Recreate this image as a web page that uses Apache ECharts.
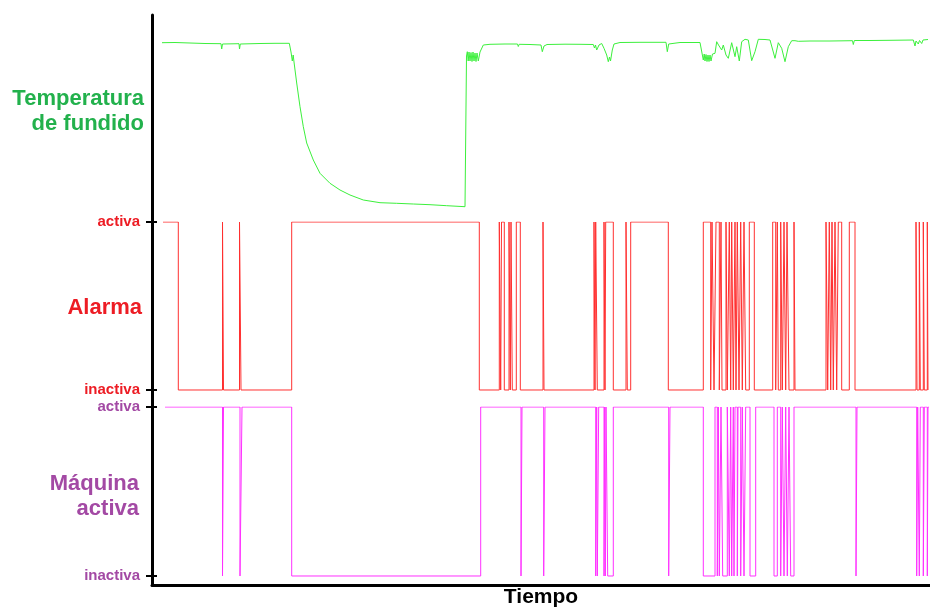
<!DOCTYPE html>
<html>
<head>
<meta charset="utf-8">
<script src="https://cdn.jsdelivr.net/npm/echarts@6/dist/echarts.min.js"></script>
<style>
  html, body { margin: 0; padding: 0; background: #ffffff; }
  #chart { width: 930px; height: 610px; }
</style>
</head>
<body>
<div id="chart"></div>
<script>
// Time runs along a common axis (0 .. 778 time units); signals are sampled on it.
const timeMax = 778;

// Melt temperature samples: [time, temperature units]
const temperature = [
  [10,179.3],[23,179.5],[38,179],[53,178.5],[69,178.3],[69.7,173],[70.5,178],[87,178.3],[87.5,173],[88.3,178],
  [108,178.5],[123,178.7],[137.3,178.7],[139,170],[140.3,161],[141.2,167],[142,160],[143,158.7],[144.7,139],
  [148,115.3],[151.3,95.3],[154.7,79],[161.3,62],[168,48.7],[178,38.7],[188,32],[198,27],[211.3,22],[228,19.3],
  [244.7,18.7],[261.3,18],[278,17.3],[294.7,16.3],[313,15.3],[314.5,166],[315.3,170.3],[316.2,161],[317,170],
  [318,161],[319,169.5],[320,160.5],[321,170],[322,161],[323,169],[324,160.5],[325,169],[326.3,161],[328,170],
  [331.3,177],[338,177.7],[353,178],[365.5,178],[366.3,175.5],[367.2,177.7],[378,177.5],[389,177],[390.3,170.3],
  [392,176],[395,177.5],[413,177.8],[428,177.7],[441.3,177.5],[442.5,174],[443.5,177],[444.7,172],[447,177],
  [449.7,178.5],[452,173.7],[454.7,167],[456.3,160.3],[457.5,165],[458.5,161],[460.3,172],[462,178],[468,179.5],
  [488,179.7],[514,179.7],[515.3,170.3],[516.7,178],[528,179.5],[548,179.5],[549.7,178],[551.3,162],[552.2,168],
  [553,161],[554,167.5],[555,160.5],[556,167],[557,160.5],[558,167],[559,161],[560.5,168],[563,168.7],[564.7,180.3],
  [566.5,177],[569.7,172],[571.3,177],[574,167],[576.3,163.7],[579.7,179.3],[583,165.3],[584.7,175.3],[587.3,161],
  [589.7,180.3],[593,182.7],[596.3,182],[599.7,161.3],[603,170.3],[606.3,182.7],[613,182.5],[618,182],[623,163.7],
  [626.3,179.3],[629.7,173.7],[633,160.3],[636.3,175.3],[639.7,181.3],[643,181.3],[646.3,180.7],[658,181],[678,181],
  [700.5,181.3],[701.3,177.5],[702.3,181.5],[718,181.5],[738,181.7],[761.3,182],[763,176],[764,181],[766.3,178],
  [767.5,181.5],[769.7,178.5],[771,182],[776,182.5]
];

// Alarm: first sample [time, state], then the times at which the state flips.
const alarmStart = [11, 1];
const alarmToggles = [
  26.3, 70.5, 71.5, 87.5, 89, 139.7, 327.3, 347.3, 348.7, 349.5, 352.3, 357, 358.3, 359, 360.3, 364.3, 368.3,
  391, 392, 442, 443, 443.7, 445.3, 452, 453, 453.7, 461.3, 474, 475.3, 478.7, 516.3, 551.3, 558.7, 560, 562,
  564, 567.3, 569, 570, 574, 575.3, 577.3, 578.7, 579.7, 581.3, 583, 584, 585.3, 587, 588.7, 590.3, 592, 593.7,
  597.3, 602.3, 620.7, 623.7, 625.3, 626.3, 628.7, 630.3, 632, 633.7, 635, 637, 642, 643, 674, 675.7, 677.3,
  678.7, 680, 681.3, 683, 684.7, 686.3, 689.7, 697.3, 703, 764, 765, 767.3, 768.3, 771.3, 772.3, 775.3, 776
];
const alarmEnd = 776;

// Machine running: first sample [time, state], then the flip times.
const machineStart = [13, 1];
const machineToggles = [
  70.5, 71.5, 88, 90, 139.7, 328.7, 369, 370, 391.7, 393, 443.7, 444.7, 445.3, 446.7, 452, 452.7, 453.3, 454,
  455.7, 461.3, 516.7, 518, 551.3, 563, 565.3, 566.3, 567.3, 569, 570.7, 575.3, 577.3, 578.7, 579.7, 581.3, 582,
  583, 585.3, 586, 588.7, 590.3, 592, 593.7, 598, 603.7, 622, 625.3, 628.7, 630.3, 632, 633.7, 635.3, 637, 638.7,
  642, 704, 705, 764.7, 765.7, 767.3, 768.3, 771.3, 772.3, 775.3, 776
];
const machineEnd = 777;

// State tick labels
const stateLabels = ['inactiva', 'activa'];

// Turn a start state plus flip times into a square-wave polyline
// (each flip adds the old and the new level at the same time, so edges stay vertical)
function squareWave(start, toggles, end) {
  let s = start[1];
  const pts = [[start[0], s]];
  toggles.forEach(function (t) {
    pts.push([t, s]);
    s = 1 - s;
    pts.push([t, s]);
  });
  if (end > pts[pts.length - 1][0]) pts.push([end, s]);
  return pts;
}

const FONT = '"Liberation Sans", Arial, sans-serif';
const GREEN_TXT = '#22b14c', RED_TXT = '#ed1c24', PURPLE_TXT = '#a349a4';
// an empty short trailing line lifts a panel title slightly above its panel centre
const LIFT = '\n{lift|}';
const liftRich = { lift: { lineHeight: 14, fontSize: 1 } };

function titleStyle(color) {
  return { color: color, fontFamily: FONT, fontWeight: 'bold', fontSize: 22, lineHeight: 25, align: 'right', rich: liftRich };
}

function stateAxis(gridIndex, min, color, name, nameGap) {
  return {
    type: 'value', gridIndex: gridIndex, min: min, max: 1, position: 'left',
    axisLine: { show: true, onZero: false, lineStyle: { color: '#000', width: 3 } },
    axisTick: { show: true, inside: false, length: 6, customValues: [0, 1], lineStyle: { color: '#000', width: 2 } },
    axisLabel: {
      show: true, customValues: [0, 1], margin: 12,
      formatter: function (v) { return stateLabels[Math.round(v)]; },
      color: color, fontFamily: FONT, fontWeight: 'bold', fontSize: 15
    },
    splitLine: { show: false },
    name: name, nameLocation: 'middle', nameRotate: 0, nameGap: nameGap, nameMoveOverlap: false,
    nameTextStyle: titleStyle(color)
  };
}
function innerTickAxis(gridIndex, min) {
  return {
    type: 'value', gridIndex: gridIndex, min: min, max: 1, position: 'left',
    axisLine: { show: false },
    axisTick: { show: true, inside: true, length: 5, customValues: [0, 1], lineStyle: { color: '#000', width: 2 } },
    axisLabel: { show: false }, splitLine: { show: false }
  };
}
function hiddenX(gridIndex) {
  return { type: 'value', gridIndex: gridIndex, min: 0, max: timeMax, show: false };
}
function panel(top, height) {
  return { left: 152, right: 0, top: top, height: height, containLabel: false, outerBoundsMode: 'none' };
}

const chart = echarts.init(document.getElementById('chart'), null, { renderer: 'canvas' });
chart.setOption({
  animation: false,
  backgroundColor: '#ffffff',
  grid: [panel(15, 207), panel(222, 185), panel(407, 178)],
  xAxis: [
    hiddenX(0),
    hiddenX(1),
    {
      type: 'value', gridIndex: 2, min: 0, max: timeMax,
      axisLine: { show: true, onZero: false, lineStyle: { color: '#000', width: 3 } },
      axisTick: { show: false }, axisLabel: { show: false }, splitLine: { show: false },
      name: 'Tiempo', nameLocation: 'middle', nameGap: 2, nameMoveOverlap: false,
      nameTextStyle: { color: '#000', fontFamily: FONT, fontWeight: 'bold', fontSize: 21, verticalAlign: 'top' }
    }
  ],
  yAxis: [
    {
      type: 'value', gridIndex: 0, min: 0, max: 207, position: 'left',
      axisLine: { show: true, lineStyle: { color: '#000', width: 3 } },
      axisTick: { show: false }, axisLabel: { show: false }, splitLine: { show: false },
      name: 'Temperatura\nde fundido' + LIFT, nameLocation: 'middle', nameRotate: 0, nameGap: 8, nameMoveOverlap: false,
      nameTextStyle: titleStyle(GREEN_TXT)
    },
    stateAxis(1, -0.1012, RED_TXT, 'Alarma' + LIFT, 10),
    innerTickAxis(1, -0.1012),
    stateAxis(2, -0.0533, PURPLE_TXT, 'Máquina\nactiva', 13),
    innerTickAxis(2, -0.0533)
  ],
  series: [
    {
      name: 'Temperatura de fundido', type: 'line', xAxisIndex: 0, yAxisIndex: 0,
      data: temperature, showSymbol: false, symbol: 'none',
      lineStyle: { color: '#3cf03c', width: 1 }, silent: true
    },
    {
      name: 'Alarma', type: 'line', xAxisIndex: 1, yAxisIndex: 1,
      data: squareWave(alarmStart, alarmToggles, alarmEnd), showSymbol: false, symbol: 'none',
      lineStyle: { color: '#ff3030', width: 1 }, silent: true
    },
    {
      name: 'Máquina activa', type: 'line', xAxisIndex: 2, yAxisIndex: 3,
      data: squareWave(machineStart, machineToggles, machineEnd), showSymbol: false, symbol: 'none',
      lineStyle: { color: '#ff30ff', width: 1 }, silent: true
    }
  ]
});
</script>
</body>
</html>
